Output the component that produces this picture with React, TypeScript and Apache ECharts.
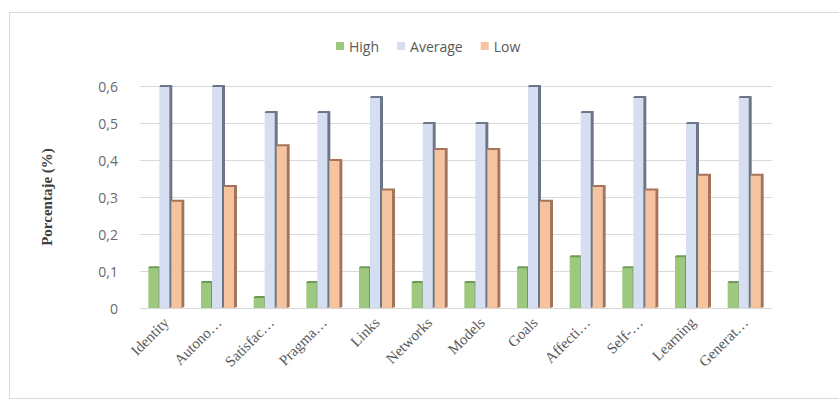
import React, { useEffect, useRef } from "react";
import * as echarts from "echarts";

const categories = [
  "Identity", "Autono…", "Satisfac…", "Pragma…", "Links", "Networks",
  "Models", "Goals", "Affecti…", "Self-…", "Learning", "Generat…",
];
const highValues = [0.11, 0.07, 0.03, 0.07, 0.11, 0.07, 0.07, 0.11, 0.14, 0.11, 0.14, 0.07];
const averageValues = [0.6, 0.6, 0.53, 0.53, 0.57, 0.5, 0.5, 0.6, 0.53, 0.57, 0.5, 0.57];
const lowValues = [0.29, 0.33, 0.44, 0.4, 0.32, 0.43, 0.43, 0.29, 0.33, 0.32, 0.36, 0.36];
const yTicks = [0, 0.1, 0.2, 0.3, 0.4, 0.5, 0.6];

const BAR_W = 10;
const DEPTH = 3;

// A bar drawn as a shallow prism: front face, darker right face and top cap.
function prismSeries(name: string, values: number[], front: string, side: string, offset: number) {
  return {
    type: "custom",
    name,
    data: values.map((v, i) => [i, v]),
    encode: { x: 0, y: 1 },
    itemStyle: { color: front },
    renderItem: (_params: any, api: any) => {
      const i = api.value(0);
      const v = api.value(1);
      const top = api.coord([i, v]);
      const base = api.coord([i, 0]);
      const x0 = top[0] + offset - BAR_W / 2;
      const x1 = x0 + BAR_W;
      return {
        type: "group",
        children: [
          {
            type: "rect",
            shape: { x: x0, y: top[1], width: BAR_W, height: base[1] - top[1] },
            style: { fill: front },
          },
          {
            type: "polygon",
            shape: {
              points: [
                [x1, top[1]],
                [x1 + DEPTH, top[1] - 1],
                [x1 + DEPTH, base[1] - 1],
                [x1, base[1]],
              ],
            },
            style: { fill: side },
          },
          {
            type: "polygon",
            shape: {
              points: [
                [x0, top[1] + 1],
                [x0 + 1, top[1] - 1],
                [x1 + DEPTH, top[1] - 1],
                [x1, top[1] + 1],
              ],
            },
            style: { fill: side },
          },
        ],
      };
    },
  };
}

export default function App() {
  const ref = useRef<HTMLDivElement>(null);

  useEffect(() => {
    if (!ref.current) return;
    const chart = echarts.init(ref.current, null, { renderer: "svg" });
    chart.setOption({
      animation: false,
      backgroundColor: "#ffffff",
      graphic: [
        {
          type: "rect",
          shape: { x: 9.5, y: 12.5, width: 840, height: 386 },
          style: { fill: "none", stroke: "#d9d9d9", lineWidth: 1 },
          silent: true,
        },
      ],
      legend: {
        top: 34,
        left: 331,
        itemWidth: 8,
        itemHeight: 8,
        itemGap: 18,
        icon: "rect",
        textStyle: { color: "#595959", fontSize: 14, fontFamily: "Open Sans" },
        data: ["High", "Average", "Low"],
      },
      grid: { left: 140, right: 67, top: 86, bottom: 96 },
      xAxis: {
        type: "category",
        data: categories,
        axisLine: { show: false },
        axisTick: { show: false },
        axisLabel: {
          rotate: 45,
          interval: 0,
          margin: 12,
          color: "#595959",
          fontSize: 15,
          fontFamily: "Liberation Serif",
        },
      },
      yAxis: {
        type: "value",
        min: yTicks[0],
        max: yTicks[yTicks.length - 1],
        interval: 0.1,
        name: "Porcentaje (%)",
        nameLocation: "middle",
        nameGap: 86,
        nameTextStyle: {
          color: "#404040",
          fontSize: 15,
          fontWeight: "bold",
          fontFamily: "Liberation Serif",
        },
        axisLine: { show: false },
        axisTick: { show: false },
        axisLabel: {
          margin: 22,
          color: "#6a6a6a",
          fontSize: 14,
          fontFamily: "Open Sans",
          formatter: (v: number) => (v === 0 ? "0" : v.toFixed(1).replace(".", ",")),
        },
        splitLine: { lineStyle: { color: "#d9d9d9", width: 1 } },
      },
      series: [
        prismSeries("High", highValues, "#9dc97f", "#6f9a56", -13),
        prismSeries("Average", averageValues, "#d6dff1", "#6c7686", -2),
        prismSeries("Low", lowValues, "#f6c39f", "#a5755b", 10),
      ],
    });
    return () => chart.dispose();
  }, []);

  return (
    <div
      ref={ref}
      style={{ position: "fixed", left: 0, top: 0, width: 839, height: 404 }}
    />
  );
}
